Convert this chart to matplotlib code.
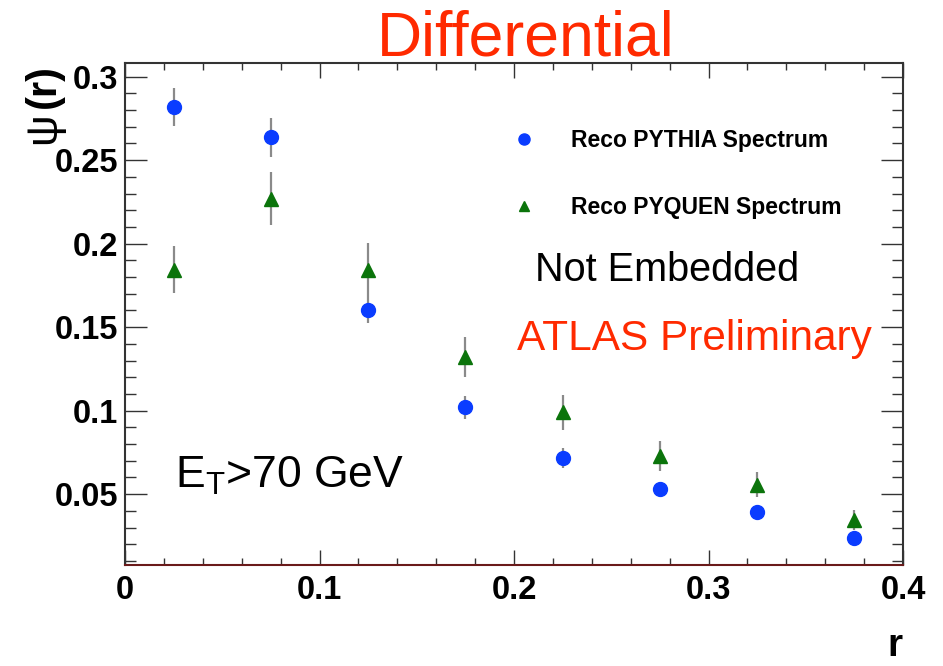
import matplotlib
matplotlib.use("Agg")
import matplotlib.pyplot as plt
from matplotlib.lines import Line2D
from matplotlib.ticker import MultipleLocator, FormatStrFormatter

plt.rcParams['font.family'] = ['Liberation Sans', 'DejaVu Sans']
plt.rcParams['mathtext.fontset'] = 'custom'
plt.rcParams['mathtext.rm'] = 'Liberation Sans'
plt.rcParams['mathtext.it'] = 'Liberation Sans'

# bin centres in r
r = [0.025, 0.075, 0.125, 0.175, 0.225, 0.275, 0.325, 0.375]

# Reco PYTHIA spectrum
psi_pythia = [0.2818, 0.2636, 0.1605, 0.1020, 0.0716, 0.0532, 0.0392, 0.0236]
err_pythia = [0.0115, 0.0115, 0.0080, 0.0070, 0.0060, 0.0040, 0.0030, 0.0030]

# Reco PYQUEN spectrum
psi_pyquen = [0.1845, 0.2270, 0.1845, 0.1322, 0.0990, 0.0730, 0.0556, 0.0346]
err_pyquen = [0.0140, 0.0160, 0.0160, 0.0120, 0.0105, 0.0090, 0.0075, 0.0060]

labels = ['Reco PYTHIA Spectrum', 'Reco PYQUEN Spectrum']
blue = '#0a3cff'
green = '#0b740b'
red = '#ff2a00'

fig = plt.figure(figsize=(9.43, 6.66), dpi=100)
ax = fig.add_axes([0.1326, 0.1517, 0.825, 0.7537])

ax.errorbar(r, psi_pythia, yerr=err_pythia, fmt='o', color=blue, ms=10,
            ecolor='#8a8a8a', elinewidth=1.6, capsize=0, zorder=3)
ax.errorbar(r, psi_pyquen, yerr=err_pyquen, fmt='^', color=green, ms=10,
            ecolor='#8a8a8a', elinewidth=1.6, capsize=0, zorder=3)

ax.set_xlim(0, 0.4)
ax.set_ylim(0.0076, 0.3082)

ax.xaxis.set_major_locator(MultipleLocator(0.1))
ax.xaxis.set_minor_locator(MultipleLocator(0.02))
ax.yaxis.set_major_locator(MultipleLocator(0.05))
ax.yaxis.set_minor_locator(MultipleLocator(0.01))
ax.xaxis.set_major_formatter(FormatStrFormatter('%g'))
ax.yaxis.set_major_formatter(FormatStrFormatter('%g'))

ax.tick_params(axis='both', which='both', direction='in', top=True, right=True,
               width=1, color='#333333')
ax.tick_params(axis='y', which='major', length=16, pad=5)
ax.tick_params(axis='y', which='minor', length=8)
ax.tick_params(axis='x', which='major', length=11, pad=7)
ax.tick_params(axis='x', which='minor', length=5)
for lab in ax.get_xticklabels() + ax.get_yticklabels():
    lab.set_fontweight('bold')
    lab.set_fontsize(23.5)

for s in ax.spines.values():
    s.set_linewidth(1.5)
    s.set_color('#333333')
ax.spines['bottom'].set_color('#6a1a1a')

# legend
handles = [Line2D([], [], ls='none', marker='o', color=blue, ms=8),
           Line2D([], [], ls='none', marker='^', color=green, ms=7)]
ax.legend(handles, labels, loc='upper left', bbox_to_anchor=(0.545, 0.806),
          bbox_transform=fig.transFigure, frameon=False, borderpad=0,
          borderaxespad=0, handlelength=0.9, handletextpad=1.6,
          labelspacing=1.9, prop={'weight': 'bold', 'size': 16.5})

# annotations
fig.text(526 / 943, 1 - 55 / 666, 'Differential', color=red, fontsize=45,
         ha='center', va='baseline')
fig.text(535 / 943, 1 - 281 / 666, 'Not Embedded', color='black', fontsize=28.5,
         ha='left', va='baseline')
fig.text(517 / 943, 1 - 350 / 666, 'ATLAS Preliminary', color=red, fontsize=30.5,
         ha='left', va='baseline')
fig.text(175 / 943, 1 - 488 / 666, r'E$_\mathrm{T}$>70 GeV', color='black',
         fontsize=32, ha='left', va='baseline')

# axis titles
fig.text(44 / 943, 1 - 64 / 666, '(r)', fontsize=30, fontweight='bold',
         rotation=90, ha='center', va='top')
fig.text(44 / 943, 1 - 112 / 666, 'ψ', fontsize=32,
         rotation=90, ha='center', va='top')
fig.text(902 / 943, 2 / 666, 'r', fontsize=28, fontweight='bold',
         ha='right', va='bottom')

fig.savefig('out.png', dpi=100)
